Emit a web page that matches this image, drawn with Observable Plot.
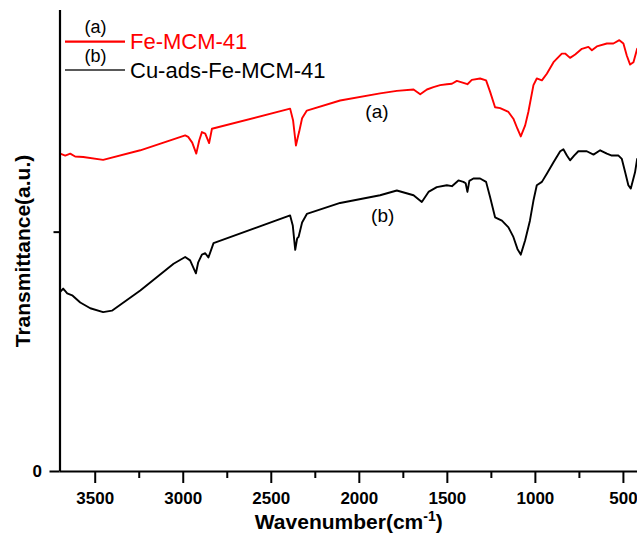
<!DOCTYPE html>
<html><head><meta charset="utf-8">
<script src="https://cdn.jsdelivr.net/npm/d3@7"></script>
<script src="https://cdn.jsdelivr.net/npm/@observablehq/plot@0.6"></script>
<style>body{margin:0;background:#fff;} #chart{width:637px;height:538px;}</style>
</head><body><div id="chart"></div>
<script>
// Series (a) Fe-MCM-41
const redWn = [3699,3670,3642,3614,3568,3455,3244,2989,2972,2949,2926,2909,2894,2875,2853,2837,2393,2376,2360,2347,2342,2325,2298,2109,1882,1787,1692,1654,1616,1579,1541,1503,1474,1446,1418,1386,1361,1314,1280,1257,1229,1200,1153,1125,1102,1083,1058,1040,1011,992,963,935,897,850,831,803,774,736,699,679,651,594,557,523,500,481,462,443,422];
const redT = [66.4,66.0,66.4,65.8,65.7,65.1,67.1,70.2,69.9,68.7,66.4,69.2,70.9,70.6,68.6,71.6,75.8,73.3,68.1,70.2,70.9,73.8,75.4,77.5,79.0,79.5,79.8,78.8,79.8,80.3,80.7,80.9,81.0,81.6,81.3,80.9,81.8,82.1,81.7,79.3,76.1,75.9,75.1,73.7,71.6,70.0,72.3,75.1,80.7,82.1,81.7,83.1,85.5,87.3,87.3,86.4,87.1,88.3,88.7,88.0,88.8,89.4,89.4,90.1,89.4,86.9,85.0,85.5,88.3];
// Series (b) Cu-ads-Fe-MCM-41
const blackWn = [3699,3682,3659,3631,3585,3528,3455,3405,3244,3055,2989,2961,2928,2915,2894,2875,2857,2828,2393,2378,2364,2353,2345,2325,2298,2109,1882,1787,1692,1645,1607,1560,1503,1474,1437,1409,1396,1386,1375,1352,1314,1280,1257,1229,1190,1153,1125,1102,1083,1058,1031,1011,992,963,935,897,859,841,821,803,780,756,708,670,632,594,566,528,509,490,472,458,434,422];
const blackT = [37.5,38.2,37.2,36.8,35.3,34.1,33.3,33.6,37.8,43.4,44.8,44.1,41.4,43.7,45.3,45.6,44.7,47.7,53.5,51.4,46.3,48.7,49.0,52.0,53.8,56.1,57.7,58.7,57.7,56.3,58.4,59.4,59.8,59.6,60.8,60.5,60.2,58.4,60.7,61.2,61.2,60.5,57.3,53.1,52.4,51.0,49.0,46.5,45.3,48.3,52.4,56.6,59.8,60.5,62.2,64.6,66.9,67.3,66.0,65.0,66.0,66.9,66.9,66.2,67.1,66.4,66.0,66.0,65.3,62.5,59.8,59.1,62.5,65.3];

const seriesNames = ["Fe-MCM-41", "Cu-ads-Fe-MCM-41"];
const seriesTags = ["(a)", "(b)"];
const seriesColors = ["#ff0000", "#000000"];
const curveTagWn = [1900, 1867];
const curveTagT = [75.1, 53.3];

const xMajorTicks = [3500, 3000, 2500, 2000, 1500, 1000, 500];
const xMinorTicks = [3250, 2750, 2250, 1750, 1250, 750];
const yMajorTicks = [0];
const yMinorTicks = [50];
const xDomain = [3700, 420];
const yDomain = [0, 96.3];
const xTitleParts = ["Wavenumber(cm", "-1", ")"];
const yTitle = "Transmittance(a.u.)";

const spectra = [
  ...redWn.map((w, i) => ({series: seriesNames[0], wn: w, t: redT[i]})),
  ...blackWn.map((w, i) => ({series: seriesNames[1], wn: w, t: blackT[i]}))
];

const FONT = "'Liberation Sans', Arial, sans-serif";
const xTitle = xTitleParts.join("");

const chart = Plot.plot({
  width: 637,
  height: 538,
  marginLeft: 59.5,
  marginRight: 0,
  marginTop: 10,
  marginBottom: 67,
  style: {fontFamily: FONT, background: "white", color: "black"},
  x: {domain: xDomain},
  y: {domain: yDomain},
  color: {domain: seriesNames, range: seriesColors},
  marks: [
    Plot.line(spectra, {x: "wn", y: "t", z: "series", stroke: "series", strokeWidth: 1.9, curve: "linear"}),
    Plot.ruleY([0], {strokeWidth: 2}),
    Plot.ruleX([xDomain[0]], {strokeWidth: 2.2}),
    Plot.axisX({ticks: xMajorTicks, tickSize: 12, tickPadding: 8, tickFormat: d => String(d), fontSize: 17, fontWeight: "bold", strokeWidth: 2, label: null}),
    Plot.axisX({ticks: xMinorTicks, tickSize: 7, tickFormat: () => "", strokeWidth: 2, label: null}),
    Plot.axisY({ticks: yMajorTicks, tickSize: 10, tickPadding: 8, tickFormat: d => String(d), fontSize: 17, fontWeight: "bold", strokeWidth: 2, label: null}),
    Plot.axisY({ticks: yMinorTicks, tickSize: 6, tickFormat: () => "", strokeWidth: 2, label: null}),
    Plot.text([xTitle], {text: d => d, frameAnchor: "bottom", dy: 57.3, dx: 0, fontSize: 21, fontWeight: "bold"}),
    Plot.text([yTitle], {text: d => d, frameAnchor: "left", rotate: -90, textAnchor: "middle", dx: -37, dy: 10, fontSize: 21, fontWeight: "bold"}),
    Plot.text(seriesTags, {x: (d, i) => curveTagWn[i], y: (d, i) => curveTagT[i], text: d => d, fontSize: 19, fill: "black"})
  ]
});

document.getElementById("chart").appendChild(chart);

// superscript in x title
d3.select(chart).selectAll("text").filter(function() { return this.textContent === xTitle; }).each(function() {
  const t = d3.select(this);
  t.text(null);
  t.append("tspan").text(xTitleParts[0]);
  t.append("tspan").attr("dy", -8).attr("font-size", 14).text(xTitleParts[1]);
  t.append("tspan").attr("dy", 8).text(xTitleParts[2]);
});

// legend (upper-left inside the frame)
const lg = d3.select(chart).append("g").attr("font-family", FONT);
seriesNames.forEach((name, i) => {
  const yLine = 41.7 + i * 28.3;
  lg.append("line").attr("x1", 65).attr("x2", 125).attr("y1", yLine).attr("y2", yLine)
    .attr("stroke", i === 0 ? seriesColors[i] : "#222").attr("stroke-width", i === 0 ? 2.2 : 1.6);
  lg.append("text").attr("x", 95.5).attr("y", yLine - 8.5).attr("text-anchor", "middle")
    .attr("font-size", 18).attr("fill", "black").text(seriesTags[i]);
  lg.append("text").attr("x", 130).attr("y", yLine + 7.5).attr("text-anchor", "start")
    .attr("font-size", 22).attr("fill", seriesColors[i]).text(name);
});
</script>
</body></html>
